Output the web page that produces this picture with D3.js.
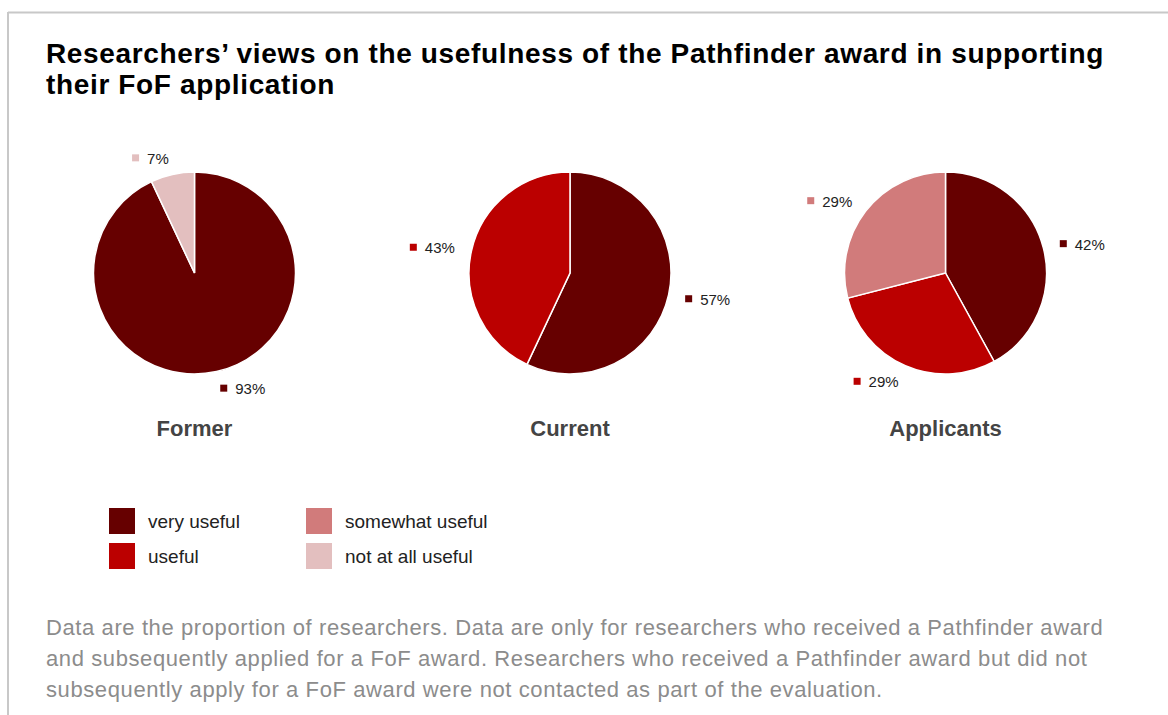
<!DOCTYPE html>
<html>
<head>
<meta charset="utf-8">
<script src="https://cdn.jsdelivr.net/npm/d3@7"></script>
<style>
  html, body { margin: 0; padding: 0; background: #fff; }
  svg { display: block; font-family: "Liberation Sans", Arial, sans-serif; }
</style>
</head>
<body>
<svg id="chart" width="1168" height="715"></svg>
<script>
// Response categories, in the order slices are laid out clockwise from 12 o'clock
const categories = ["very useful", "useful", "somewhat useful", "not at all useful"];
const categoryColors = ["#660000", "#bb0000", "#d17b7b", "#e3bfbf"];

// Researcher groups (one pie each)
const groups = ["Former", "Current", "Applicants"];

// Percentage of researchers per category, per group
const formerValues     = [93, 0, 0, 7];
const currentValues    = [57, 43, 0, 0];
const applicantsValues = [42, 29, 29, 0];
const groupValues = [formerValues, currentValues, applicantsValues];

const titleLines = [
  "Researchers\u2019 views on the usefulness of the Pathfinder award in supporting",
  "their FoF application"
];
const noteLines = [
  "Data are the proportion of researchers. Data are only for researchers who received a Pathfinder award",
  "and subsequently applied for a FoF award. Researchers who received a Pathfinder award but did not",
  "subsequently apply for a FoF award were not contacted as part of the evaluation."
];

const svg = d3.select("#chart");

// Frame lines
svg.append("line").attr("x1", 8).attr("x2", 1168).attr("y1", 12.5).attr("y2", 12.5)
  .attr("stroke", "#c8c8c8").attr("stroke-width", 2);
svg.append("line").attr("x1", 8).attr("x2", 8).attr("y1", 12).attr("y2", 715)
  .attr("stroke", "#c8c8c8").attr("stroke-width", 2);

// Title
svg.append("g").selectAll("text").data(titleLines).join("text")
  .attr("x", 46).attr("y", (d, i) => 63 + i * 31)
  .attr("font-size", 28).attr("font-weight", "bold").attr("fill", "#000")
  .attr("letter-spacing", 0.65)
  .text(d => d);

const color = d3.scaleOrdinal().domain(categories).range(categoryColors);
const xPos = d3.scalePoint().domain(groups).range([194.5, 945.5]);
const radius = 101;
const cy = 273;
const labelR = 118;

const pie = d3.pie().sort(null).value(d => d.value);
const arc = d3.arc().innerRadius(0).outerRadius(radius);

groups.forEach((g, gi) => {
  const data = categories.map((c, ci) => ({ cat: c, value: groupValues[gi][ci] }))
    .filter(d => d.value > 0);
  const cx = xPos(g);
  const gEl = svg.append("g").attr("transform", `translate(${cx},${cy})`);

  const arcs = pie(data);
  gEl.selectAll("path").data(arcs).join("path")
    .attr("d", arc)
    .attr("fill", d => color(d.data.cat))
    .attr("stroke", "#fff").attr("stroke-width", 1.5);

  // Outside value labels: marker square + percentage
  arcs.forEach(a => {
    const mid = (a.startAngle + a.endAngle) / 2;
    const ax = Math.sin(mid) * labelR;
    const ay = -Math.cos(mid) * labelR;
    const right = Math.sin(mid) >= 0;
    const lab = gEl.append("g");
    const txt = lab.append("text")
      .attr("font-size", 15).attr("fill", "#222")
      .attr("dominant-baseline", "central")
      .text(a.data.value + "%");
    const tw = txt.node().getComputedTextLength();
    const total = 7 + 8 + tw;
    const x0 = right ? ax : ax - total;
    lab.append("rect").attr("x", x0).attr("y", ay - 3.5).attr("width", 7).attr("height", 7)
      .attr("fill", color(a.data.cat));
    txt.attr("x", x0 + 15).attr("y", ay + 0.5);
  });

  // Group name below the pie
  svg.append("text").attr("x", cx).attr("y", 436)
    .attr("text-anchor", "middle").attr("font-size", 22).attr("font-weight", "bold")
    .attr("fill", "#444").text(g);
});

// Legend, two columns
const legend = svg.append("g");
const legItems = legend.selectAll("g").data(categories).join("g")
  .attr("transform", (d, i) => `translate(${109 + Math.floor(i / 2) * 197},${508 + (i % 2) * 35})`);
legItems.append("rect").attr("width", 26).attr("height", 26).attr("fill", d => color(d));
legItems.append("text").attr("x", 39).attr("y", 13).attr("dominant-baseline", "central")
  .attr("font-size", 19).attr("fill", "#222").text(d => d);

// Footnote
svg.append("g").selectAll("text").data(noteLines).join("text")
  .attr("x", 46).attr("y", (d, i) => 635 + i * 31)
  .attr("font-size", 22).attr("fill", "#8c8c8c")
  .attr("letter-spacing", 0.6)
  .text(d => d);
</script>
</body>
</html>
